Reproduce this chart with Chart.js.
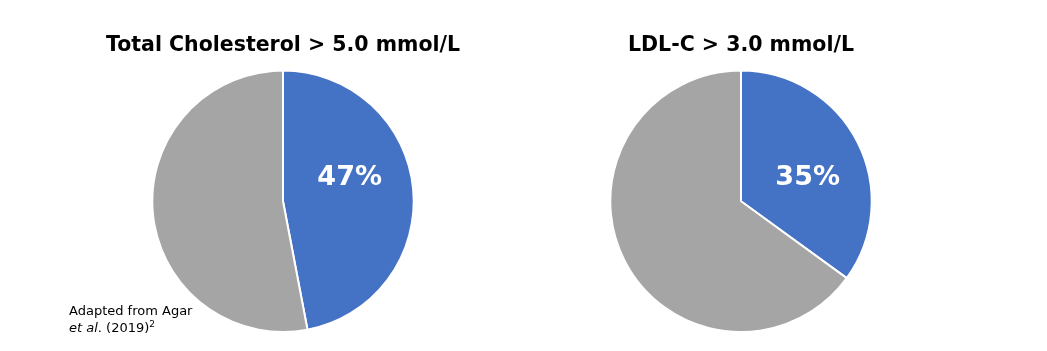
<!DOCTYPE html>
<html>
<head>
<meta charset="utf-8">
<script src="https://cdn.jsdelivr.net/npm/chart.js@4.4.0/dist/chart.umd.min.js"></script>
<style>
  body { margin: 0; background: #fff; width: 1047px; height: 351px; overflow: hidden; position: relative; font-family: "DejaVu Sans", Verdana, sans-serif; }
  .box { position: absolute; top: 0; height: 333px; }
  #left { left: 0; width: 566px; }
  #right { left: 470px; width: 542px; }
  .note { position: absolute; left: 69px; top: 302px; font-size: 13px; line-height: 17px; color: #000; }
  .note sup { font-size: 9px; line-height: 0; }
</style>
</head>
<body>
<div class="box" id="left"><canvas id="c1"></canvas></div>
<div class="box" id="right"><canvas id="c2"></canvas></div>
<div class="note">Adapted from Agar<br><i>et al</i>. (2019)<sup>2</sup></div>
<script>
let categories = ["Above threshold", "Below threshold"];
let totalChol = [47, 53];
let ldlC = [35, 65];
let titles = ["Total Cholesterol > 5.0 mmol/L", "LDL-C > 3.0 mmol/L"];
let colors = ["#4472C4", "#A5A5A5"];

// writes the percentage inside the first (blue) slice
const pctLabel = {
  id: "pctLabel",
  afterDatasetsDraw(chart) {
    const arc = chart.getDatasetMeta(0).data[0];
    const val = chart.data.datasets[0].data[0];
    const ctx = chart.ctx;
    ctx.save();
    ctx.fillStyle = "#fff";
    ctx.font = "bold 27px 'DejaVu Sans'";
    ctx.textAlign = "center";
    ctx.textBaseline = "middle";
    ctx.fillText(val + "%", arc.x + arc.outerRadius * 0.51, arc.y - arc.outerRadius * 0.175);
    ctx.restore();
  }
};

function makePie(id, values, title) {
  new Chart(document.getElementById(id), {
    type: "pie",
    data: {
      labels: categories,
      datasets: [{
        data: values,
        backgroundColor: colors,
        borderColor: "#fff",
        borderWidth: 2,
      }],
    },
    options: {
      responsive: true,
      maintainAspectRatio: false,
      animation: false,
      layout: { padding: 0 },
      plugins: {
        legend: { display: false },
        tooltip: { enabled: false },
        title: {
          display: true,
          text: title,
          color: "#000",
          font: { family: "DejaVu Sans", size: 20.5, weight: "bold" },
          padding: { top: 33, bottom: 12 },
        },
      },
    },
    plugins: [pctLabel],
  });
}

makePie("c1", totalChol, titles[0]);
makePie("c2", ldlC, titles[1]);
</script>
</body>
</html>
